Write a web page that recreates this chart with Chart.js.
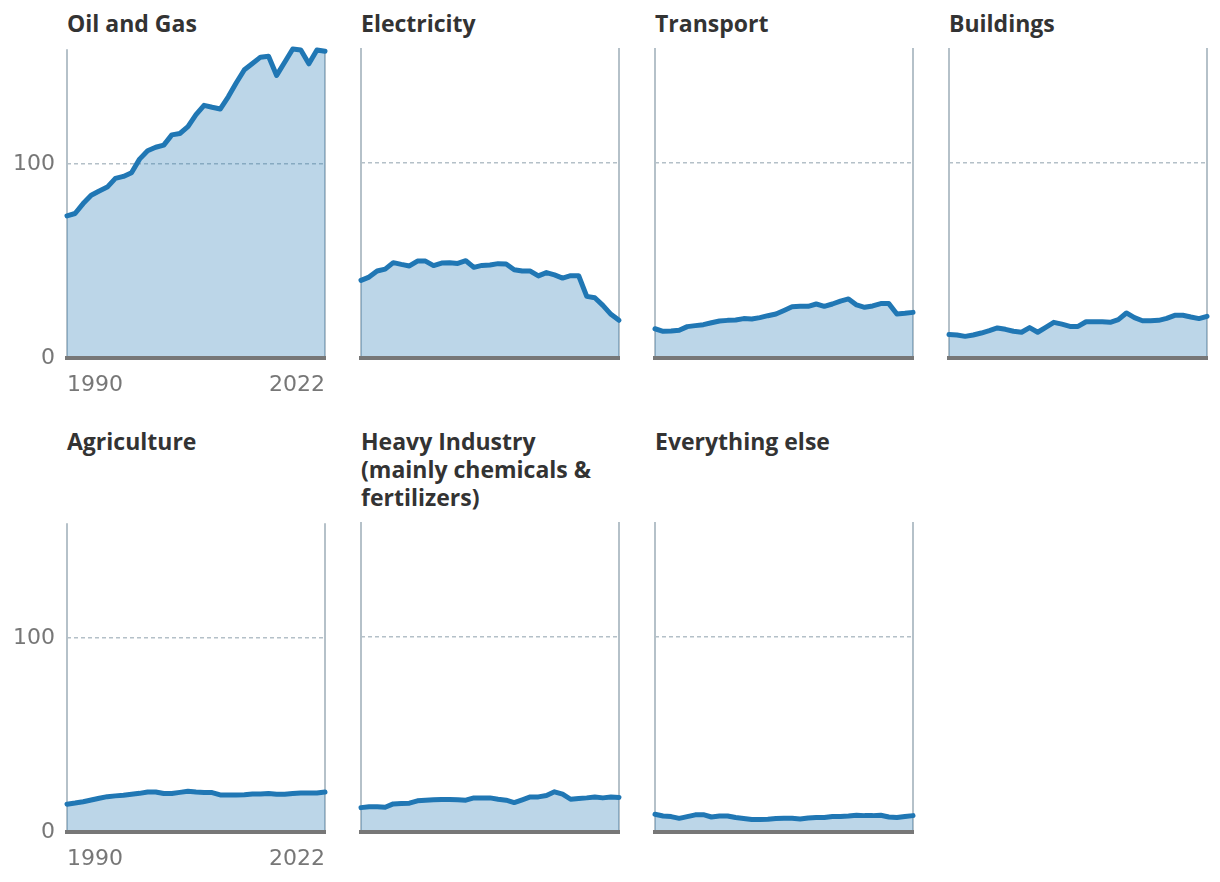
<!DOCTYPE html>
<html><head><meta charset="utf-8">
<script src="https://cdn.jsdelivr.net/npm/chart.js@4.4.1/dist/chart.umd.min.js"></script>
<style>
html,body{margin:0;padding:0;background:#fff;width:1220px;height:882px;overflow:hidden;position:relative}
.t{position:absolute;font-family:'Open Sans',sans-serif;font-weight:700;font-size:23px;line-height:28px;color:#333;white-space:nowrap}
canvas{position:absolute}
</style></head><body>
<script>
const years = ['1990','1991','1992','1993','1994','1995','1996','1997','1998','1999','2000','2001','2002','2003','2004','2005','2006','2007','2008','2009','2010','2011','2012','2013','2014','2015','2016','2017','2018','2019','2020','2021','2022'];
const yTicks = [0, 100];
const yMax = 159;

const oilGas      = [73.2,74.4,79.5,83.8,86.0,88.0,92.5,93.5,95.4,102.4,106.7,108.5,109.6,114.9,115.6,119.1,125.3,130.1,129.1,128.2,134.5,141.7,148.4,151.6,154.9,155.4,145.5,152.3,159.1,158.6,151.5,158.6,157.9];
const electricity = [39.8,41.5,44.6,45.6,48.9,48.0,47.2,49.7,49.7,47.4,48.7,48.9,48.5,49.9,46.5,47.5,47.7,48.4,48.2,45.3,44.6,44.6,42.1,43.8,42.6,41.0,42.2,42.2,31.6,30.9,27.0,22.4,19.3];
const transport   = [15.0,13.7,13.8,14.2,16.1,16.6,17.1,18.1,19.0,19.3,19.5,20.2,20.0,20.7,21.7,22.6,24.4,26.3,26.5,26.5,27.7,26.5,27.7,29.2,30.3,27.2,26.0,26.7,27.9,27.9,22.6,22.9,23.4];
const buildings   = [12.1,11.8,11.1,11.8,12.8,14.0,15.4,14.7,13.7,13.2,15.6,13.2,15.7,18.3,17.4,16.2,16.2,18.6,18.6,18.6,18.3,19.7,23.1,20.7,19.1,19.1,19.3,20.3,21.9,21.9,21.0,20.2,21.4];
const agriculture = [14.3,14.9,15.6,16.5,17.4,18.2,18.6,18.9,19.4,19.9,20.6,20.6,19.8,19.8,20.4,21.0,20.6,20.4,20.3,19.1,19.1,19.1,19.2,19.6,19.6,19.8,19.4,19.4,19.8,20.1,20.1,20.1,20.6];
const heavyIndustry = [12.5,13.0,12.9,12.7,14.4,14.6,14.8,16.0,16.3,16.5,16.7,16.7,16.5,16.3,17.5,17.5,17.5,16.8,16.3,15.1,16.5,18.0,18.0,18.7,20.6,19.4,16.8,17.2,17.5,18.0,17.5,17.9,17.7];
const everythingElse = [9.1,8.2,7.9,7.0,7.9,8.8,8.9,7.7,8.2,8.2,7.4,6.9,6.4,6.4,6.5,6.9,7.0,7.0,6.7,7.2,7.4,7.4,7.9,7.9,8.2,8.6,8.4,8.4,8.6,7.7,7.4,7.9,8.4];

const titles = ['Oil and Gas','Electricity','Transport','Buildings','Agriculture','Heavy Industry<br>(mainly chemicals &amp;<br>fertilizers)','Everything else'];
const series = [oilGas, electricity, transport, buildings, agriculture, heavyIndustry, everythingElse];

const PLOT_W = 258, PLOT_H = 310, PAD_T = 24, AX_W = 67, AX_H = 45, PAD_R = 14;
const colLeft = [67, 361, 655, 949];
const rowTop = [48, 522];
const titleTop = [9, 427];

const tickFont = {family: 'DejaVu Sans', size: 22};

series.forEach((data, i) => {
  const col = i % 4, row = Math.floor(i / 4);
  const showAxes = col === 0;

  const t = document.createElement('div');
  t.className = 't';
  t.style.left = colLeft[col] + 'px';
  t.style.top = titleTop[row] + 'px';
  t.innerHTML = titles[i];
  document.body.appendChild(t);

  const cv = document.createElement('canvas');
  const w = AX_W + PLOT_W + PAD_R, h = PAD_T + PLOT_H + AX_H;
  cv.width = w; cv.height = h;
  cv.style.width = w + 'px'; cv.style.height = h + 'px';
  cv.style.left = (colLeft[col] - AX_W) + 'px';
  cv.style.top = (rowTop[row] - PAD_T) + 'px';
  document.body.appendChild(cv);

  new Chart(cv, {
    type: 'line',
    data: {
      labels: years,
      datasets: [{
        data: data,
        borderColor: '#2077b4',
        backgroundColor: 'rgba(32,119,180,0.3)',
        borderWidth: 5,
        fill: 'origin',
        pointRadius: 0,
        tension: 0,
        clip: false,
        borderCapStyle: 'round',
        borderJoinStyle: 'round'
      }]
    },
    options: {
      responsive: false,
      animation: false,
      events: [],
      layout: {padding: {top: PAD_T, right: PAD_R, left: 0, bottom: 0}},
      plugins: {legend: {display: false}, tooltip: {enabled: false}},
      scales: {
        x: {
          type: 'category',
          offset: false,
          grid: {
            color: c => (c.index === 0 || c.index === years.length - 1) ? '#b5c1c9' : 'rgba(0,0,0,0)',
            lineWidth: 2,
            drawTicks: false
          },
          border: {display: true, color: '#777777', width: 4, z: 1},
          ticks: {
            display: showAxes,
            autoSkip: false,
            maxRotation: 0,
            minRotation: 0,
            align: 'inner',
            padding: 14,
            color: '#777777',
            font: tickFont,
            callback: function(v, idx) {
              return (idx === 0 || idx === years.length - 1) ? this.getLabelForValue(v) : '';
            }
          },
          afterFit: s => { s.height = AX_H; }
        },
        y: {
          min: 0,
          max: yMax,
          afterBuildTicks: s => { s.ticks = yTicks.map(v => ({value: v})); },
          grid: {
            color: c => (c.tick && c.tick.value === 100) ? '#b4c0c8' : 'rgba(0,0,0,0)',
            lineWidth: 1.5,
            drawTicks: false
          },
          border: {display: false, dash: [4, 3]},
          ticks: {display: showAxes, padding: 12, color: '#777777', font: tickFont},
          afterFit: s => { s.width = AX_W; }
        }
      }
    }
  });
});
</script>
</body></html>
